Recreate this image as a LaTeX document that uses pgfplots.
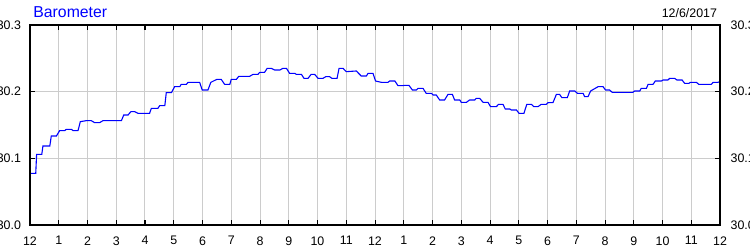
\documentclass[border=0pt]{standalone}
\usepackage{fontspec}
\setmainfont{Liberation Sans}
\usepackage{pgfplots}
\pgfplotsset{compat=1.18}
\definecolor{gridgray}{RGB}{204,204,204}
\definecolor{lineblue}{RGB}{0,0,255}
\begin{document}
\begin{tikzpicture}
\pgfplotsset{
  baro/.style={
    at={(15pt,12.5pt)}, anchor=south west,
    scale only axis, width=345pt, height=100pt,
    xmin=0, xmax=24, ymin=30, ymax=30.3,
    xtick={0,...,24},
    ytick={30,30.1,30.2,30.3},
    yticklabels={30.0,30.1,30.2,30.3},
    tick align=inside,
    major tick length=2.4pt,
    tick style={black, line width=0.5pt},
    axis line style={black, line width=0.6pt},
    ticklabel style={font=\fontsize{6.2}{7}\selectfont},
  }
}
\begin{axis}[baro,
  grid=major, grid style={gridgray, line width=0.5pt},
  xticklabels={12,1,2,3,4,5,6,7,8,9,10,11,12,1,2,3,4,5,6,7,8,9,10,11,12},
  xticklabel style={yshift=-2.2pt},
  yticklabel style={xshift=-1pt},
]
\addplot[lineblue, line width=0.55pt] coordinates {
(0,30.0775) (0.20,30.0775) (0.23,30.106) (0.41,30.106) (0.45,30.1185) (0.69,30.1185)
(0.74,30.1335) (0.92,30.1335) (1.03,30.1415) (1.21,30.1415) (1.26,30.1435) (1.44,30.1435)
(1.50,30.1415) (1.67,30.1415) (1.75,30.155) (1.96,30.1565) (2.13,30.1565) (2.25,30.1535)
(2.42,30.1535) (2.54,30.1565) (3.18,30.1565) (3.26,30.165) (3.41,30.165) (3.51,30.170)
(3.64,30.170) (3.76,30.1675) (4.16,30.1675) (4.22,30.175) (4.45,30.175) (4.51,30.179)
(4.69,30.179) (4.74,30.1985) (4.92,30.1985) (5.03,30.2075) (5.21,30.2075) (5.26,30.211)
(5.44,30.211) (5.50,30.214) (5.90,30.214) (5.99,30.2025) (6.19,30.2025) (6.29,30.214)
(6.50,30.2185) (6.65,30.2185) (6.77,30.211) (6.95,30.211) (7.00,30.2185) (7.18,30.2185)
(7.26,30.223) (7.64,30.223) (7.76,30.226) (7.93,30.226) (7.99,30.229) (8.16,30.229)
(8.25,30.235) (8.39,30.235) (8.51,30.2325) (8.69,30.2325) (8.80,30.235) (8.92,30.235)
(9.03,30.2275) (9.21,30.2275) (9.26,30.226) (9.44,30.226) (9.53,30.220) (9.67,30.220)
(9.78,30.226) (9.90,30.226) (10.02,30.220) (10.19,30.220) (10.29,30.2225) (10.42,30.2225)
(10.50,30.220) (10.68,30.220) (10.75,30.235) (10.89,30.235) (11.00,30.230) (11.35,30.231)
(11.52,30.2235) (11.70,30.2235) (11.76,30.2275) (11.93,30.2275) (12.02,30.216) (12.22,30.214)
(12.45,30.214) (12.51,30.216) (12.69,30.216) (12.80,30.209) (12.97,30.209) (13.03,30.2095)
(13.18,30.2095) (13.30,30.2025) (13.44,30.2025) (13.50,30.205) (13.67,30.205) (13.78,30.1975)
(13.96,30.1975) (14.02,30.195) (14.13,30.195) (14.25,30.1875) (14.42,30.1875) (14.54,30.196)
(14.69,30.196) (14.77,30.1875) (14.95,30.1875) (15.00,30.184) (15.18,30.184) (15.29,30.1875)
(15.47,30.1875) (15.52,30.190) (15.64,30.190) (15.76,30.184) (15.93,30.184) (16.02,30.1775)
(16.22,30.1775) (16.30,30.181) (16.45,30.181) (16.53,30.174) (16.69,30.174) (16.74,30.1725)
(16.92,30.1725) (17.01,30.1675) (17.18,30.1675) (17.28,30.181) (17.44,30.181) (17.52,30.1775)
(17.67,30.1775) (17.78,30.181) (17.96,30.181) (18.02,30.1835) (18.19,30.1835) (18.31,30.196)
(18.42,30.196) (18.50,30.191) (18.69,30.191) (18.77,30.201) (18.95,30.201) (19.04,30.1975)
(19.24,30.1975) (19.29,30.1925) (19.41,30.1925) (19.50,30.201) (19.76,30.2075) (19.93,30.2075)
(20.02,30.2025) (20.16,30.2025) (20.25,30.199) (20.97,30.199) (21.03,30.201) (21.21,30.201)
(21.26,30.205) (21.44,30.205) (21.50,30.211) (21.67,30.211) (21.75,30.216) (21.96,30.216)
(22.02,30.2175) (22.19,30.2175) (22.25,30.220) (22.42,30.220) (22.50,30.2175) (22.68,30.2175)
(22.77,30.2125) (22.92,30.2125) (22.97,30.214) (23.18,30.214) (23.26,30.211) (23.70,30.211)
(23.76,30.214) (23.93,30.214) (24.00,30.215)
};
\end{axis}
\begin{axis}[baro, xticklabels={}, yticklabel pos=right, yticklabel style={xshift=1.8pt}]
\end{axis}
\node[anchor=base west, font=\fontsize{7.9}{9}\selectfont, text=lineblue, inner sep=0pt] at (16.5pt,116.3pt) {Barometer};
\node[anchor=base east, font=\fontsize{6.2}{7}\selectfont, inner sep=0pt] at (358.7pt,116.3pt) {12/6/2017};
\pgfresetboundingbox
\path[use as bounding box] (0,0) rectangle (375pt,125pt);
\end{tikzpicture}
\end{document}
